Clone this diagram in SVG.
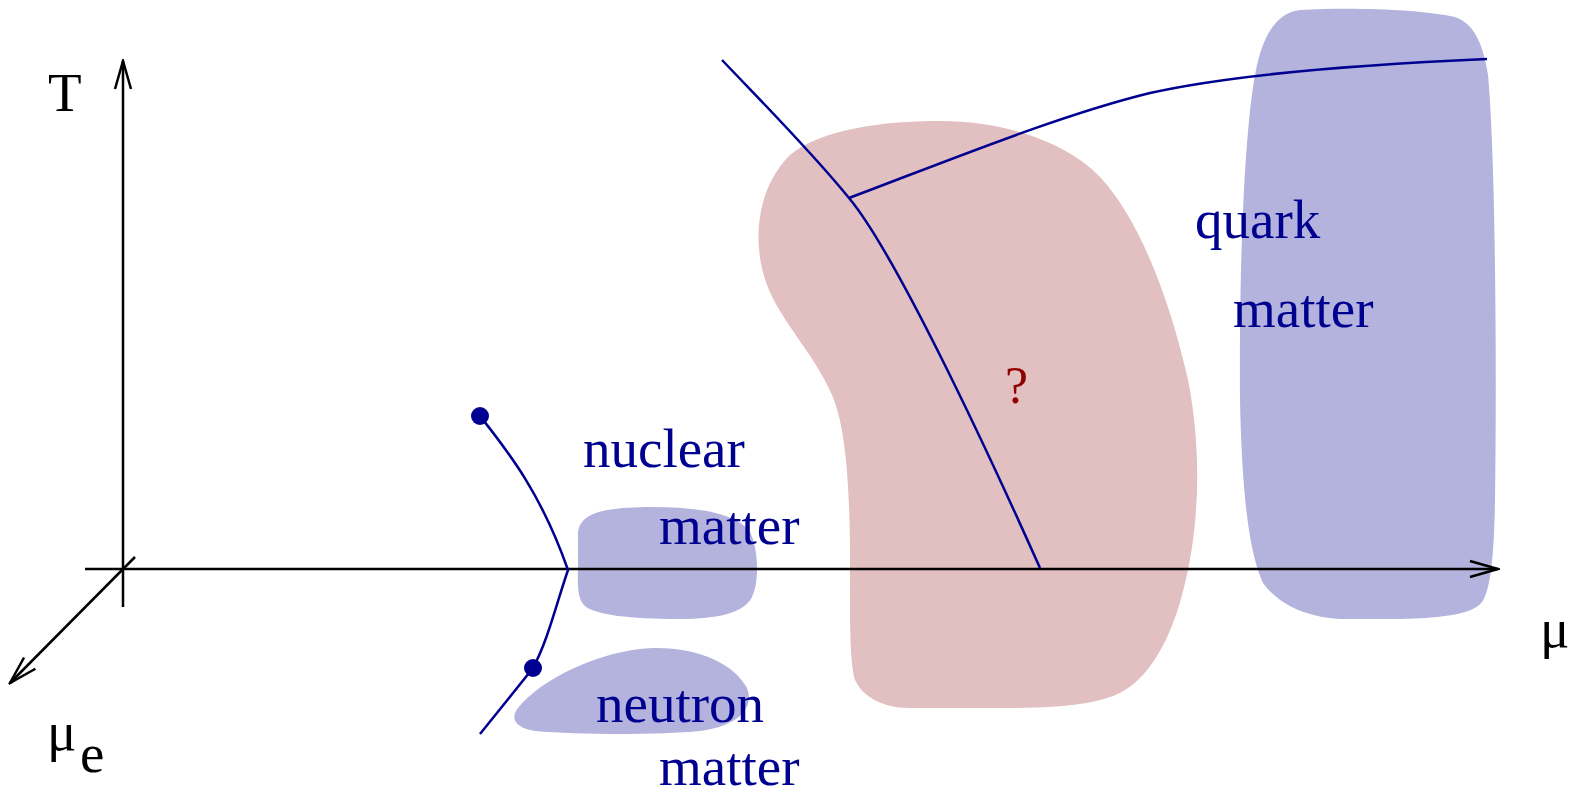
<svg xmlns="http://www.w3.org/2000/svg" width="1585" height="793" viewBox="0 0 1585 793">
<style>
.blue{fill:#b3b3dd;stroke:none}
.pink{fill:#e2bfc0;stroke:none}
.axis{fill:none;stroke:#000;stroke-width:2.5}
.curve{fill:none;stroke:#000090;stroke-width:2.5}
.lbl{font-family:"Liberation Serif","Times New Roman",serif;font-size:55px;fill:#000090}
.ax{font-family:"Liberation Serif","Times New Roman",serif;font-size:55px;fill:#000}
.q{font-family:"Liberation Serif","Times New Roman",serif;font-size:52px;fill:#900000}
</style>
<defs>
<marker id="arr" viewBox="-30 -10 32 20" markerWidth="32" markerHeight="20" refX="0" refY="0" markerUnits="userSpaceOnUse" orient="auto">
<path d="M -28 -8 L 0 0 L -28 8" fill="none" stroke="#000" stroke-width="2.5"/>
</marker>
</defs>
<rect width="1585" height="793" fill="#fff"/>
<g id="regions">
<path id="crossover" class="pink" d="M 940 121 C 1010 121 1070 145 1100 177 C 1140 220 1170 300 1188 380 C 1202 450 1200 530 1182 595 C 1170 640 1150 675 1125 690 C 1100 705 1060 708 1000 708 L 910 708 C 880 708 862 695 855 680 C 849 662 850 600 850 560 C 850 480 845 425 832 395 C 815 355 780 320 767 285 C 752 245 755 190 790 155 C 820 130 880 121 940 121 Z"/>
<path id="quark-blob" class="blue" d="M 1300 10 C 1350 7 1420 9 1455 17 C 1475 24 1483 45 1488 75 C 1495 150 1497 350 1495 500 C 1494 560 1490 590 1482 602 C 1472 615 1440 618 1400 619 L 1340 619 C 1300 617 1275 600 1263 583 C 1250 555 1242 500 1240 400 C 1239 250 1245 120 1257 65 C 1265 30 1280 12 1300 10 Z"/>
<path id="nuclear-blob" class="blue" d="M 578 535 C 578 514 600 507 653 507 C 700 507 738 514 750 532 C 758 548 760 580 752 597 C 744 613 718 619 680 619 C 630 619 596 615 585 606 C 576 598 578 580 578 560 Z"/>
<path id="neutron-blob" class="blue" d="M 518 708 C 540 680 600 650 652 648 C 700 647 735 665 747 688 C 755 708 738 726 700 731 C 660 735 580 735 535 731 C 515 728 510 718 518 708 Z"/>
</g>
<g id="axes">
<line class="axis" x1="123" y1="607" x2="123" y2="61" marker-end="url(#arr)"/>
<line class="axis" x1="85" y1="569" x2="1498" y2="569" marker-end="url(#arr)"/>
<line class="axis" x1="135" y1="557" x2="10" y2="683" marker-end="url(#arr)"/>
</g>
<g id="connectors">
<path class="curve" d="M 722 60 C 760 100 810 150 849 198 C 895 253 985 445 1040 568"/>
<path class="curve" d="M 849 198 C 950 160 1060 115 1150 93 C 1230 75 1350 65 1487 59"/>
<path class="curve" d="M 480 416 C 505 448 540 490 568 570 C 556 605 548 640 533 668 L 480 734"/>
</g>
<g id="endpoints">
<circle cx="480" cy="416" r="9" fill="#000090"/>
<circle cx="533" cy="668" r="9" fill="#000090"/>
</g>
<g id="labels">
<text class="ax" x="48" y="111">T</text>
<text class="ax" x="1540" y="647">μ</text>
<text class="ax" x="47" y="750">μ</text>
<text class="ax" x="80" y="772">e</text>
<text class="lbl" x="583" y="467">nuclear</text>
<text class="lbl" x="659" y="544">matter</text>
<text class="lbl" x="596" y="722">neutron</text>
<text class="lbl" x="659" y="785">matter</text>
<text class="lbl" x="1195" y="238">quark</text>
<text class="lbl" x="1233" y="327">matter</text>
<text class="q" x="1005" y="403">?</text>
</g>
</svg>
